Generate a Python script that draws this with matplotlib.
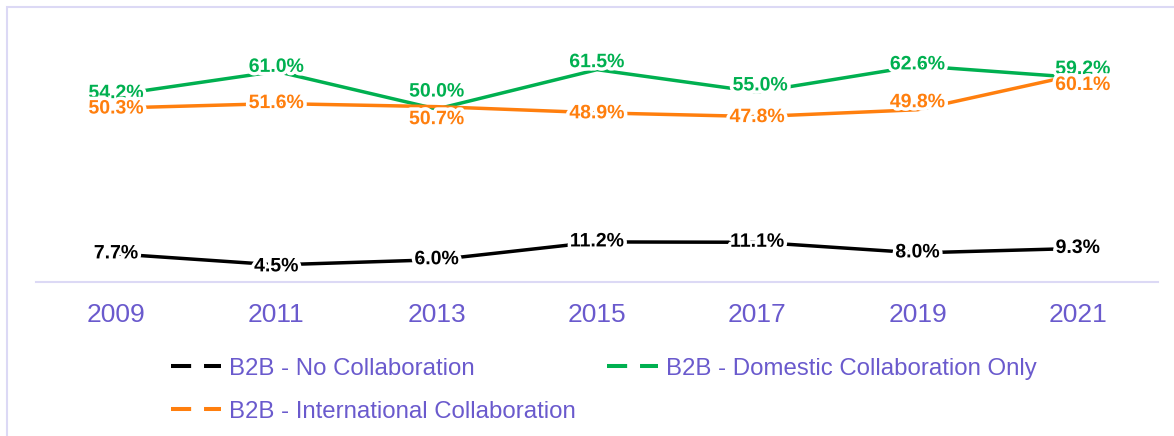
import matplotlib.pyplot as plt
import matplotlib.patheffects as pe
from matplotlib.lines import Line2D
from matplotlib.patches import Rectangle

plt.rcParams['font.family'] = ['Liberation Sans', 'DejaVu Sans']

# data
years = [2009, 2011, 2013, 2015, 2017, 2019, 2021]
no_collab = [7.7, 4.5, 6.0, 11.2, 11.1, 8.0, 9.3]
domestic = [54.2, 61.0, 50.0, 61.5, 55.0, 62.6, 59.2]
international = [50.3, 51.6, 50.7, 48.9, 47.8, 49.8, 60.1]

names = ['B2B - No Collaboration', 'B2B - Domestic Collaboration Only',
         'B2B - International Collaboration']

# colours
black = '#000000'
green = '#00b050'
orange = '#ff7f0e'
purple = '#6a5acd'
lavender = '#dcd9f5'

# label nudges in pixels (dx, dy), so labels don't sit on top of each other
green_off = [(0, 1), (0, 4), (0, 17), (0, 7), (3, 6), (0, 1), (5, 8)]
orange_off = [(0, -1), (0, 0), (0, -13), (0, -1), (0, -1), (0, 7), (5, -11)]
black_off = [(0, 0), (0, -2), (0, 0), (0, 0), (0, 0), (0, 0), (0, 0)]

fig = plt.figure(figsize=(11.74, 4.36), dpi=100)
ax = fig.add_axes([36 / 1174, 1 - 282 / 436, (1158 - 36) / 1174, (282 - 20) / 436])

# light border round the chart area
fig.patches.append(Rectangle((7 / 1174, -0.1), 1.2, 1 - 7 / 436 + 0.1,
                             transform=fig.transFigure, fill=False,
                             edgecolor=lavender, linewidth=1.5, zorder=0))

series = [(no_collab, black, black_off),
          (domestic, green, green_off),
          (international, orange, orange_off)]

for vals, col, offs in series:
    ax.plot(years, vals, color=col, linewidth=2.5, solid_capstyle='butt', zorder=2)
    for x, v, (dx, dy) in zip(years, vals, offs):
        ax.annotate(f'{v:.1f}%', (x, v), xytext=(dx, dy), textcoords='offset pixels',
                    ha='center', va='center', fontsize=14, fontweight='bold', color=col,
                    family=['Liberation Sans Narrow', 'Liberation Sans'],
                    path_effects=[pe.withStroke(linewidth=5, foreground='white')],
                    zorder=4)

ax.set_xlim(2008, 2022)
ax.set_ylim(-0.5, 76)
ax.set_xticks(years)
ax.set_yticks([])
ax.tick_params(axis='x', length=0, pad=15, labelsize=19, labelcolor=purple)
for s in ['top', 'left', 'right']:
    ax.spines[s].set_visible(False)
ax.spines['bottom'].set_color(lavender)
ax.spines['bottom'].set_linewidth(1.5)
ax.spines['bottom'].set_zorder(1)

# legend with dashed handles
handles = [Line2D([], [], color=black, linewidth=2.9, linestyle=(0, (5, 3.2))),
           Line2D([], [], color=orange, linewidth=2.9, linestyle=(0, (5, 3.2))),
           Line2D([], [], color=green, linewidth=2.9, linestyle=(0, (5, 3.2)))]
labels = [names[0], names[2], names[1]]
leg = fig.legend(handles, labels, ncol=2, loc='upper left',
                 bbox_to_anchor=(149 / 1174, 1 - 336 / 436), frameon=False,
                 fontsize=17.3, handlelength=2.1, handletextpad=0.34,
                 columnspacing=1.3, labelspacing=0.88)
for t in leg.get_texts():
    t.set_color(purple)

fig.savefig('out.png', dpi=100)
